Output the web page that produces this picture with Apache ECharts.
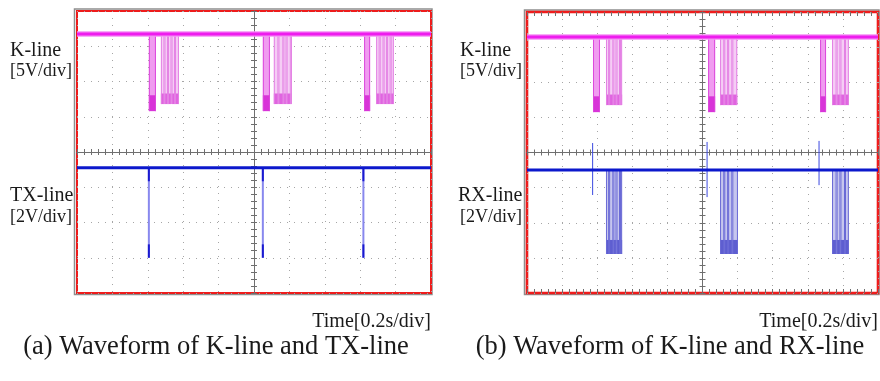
<!DOCTYPE html>
<html>
<head>
<meta charset="utf-8">
<script src="https://cdn.jsdelivr.net/npm/echarts@6/dist/echarts.min.js"></script>
<style>
  html, body { margin: 0; padding: 0; background: #fff; }
  #chart { width: 880px; height: 381px; }
</style>
</head>
<body>
<div id="chart"></div>
<script>
// 时间、电压都以“格”(div) 为单位，屏幕中心为 0
// (a) K-line 与 TX-line
const kHighA = 3.35, kLowA = 1.36, kLeadLowA = 1.16;
const kLeadA = [[-2.97, -2.77], [0.25, 0.45], [3.11, 3.28]];
const kEdgesA = [
  [-2.63, -2.53, -2.43, -2.33, -2.23, -2.12],
  [0.56, 0.69, 0.83, 0.92, 1.04, 1.07],
  [3.45, 3.55, 3.66, 3.76, 3.86, 3.95]
];
const txHigh = -0.45, txLow = -3.0;
const txSpikes = [-2.97, 0.25, 3.09];

// (b) K-line 与 RX-line
const kHighB = 3.29, kLowB = 1.35, kLeadLowB = 1.15;
const kLeadB = [[-3.12, -2.92], [0.16, 0.36], [3.35, 3.52]];
const kEdgesB = [
  [-2.75, -2.66, -2.54, -2.45, -2.35, -2.29],
  [0.50, 0.62, 0.73, 0.85, 0.99],
  [3.69, 3.82, 3.93, 4.06, 4.17]
];
const rxHigh = -0.5, rxLow = -2.89;
const rxGlitches = [[-3.13, 0.27, -1.21], [0.13, 0.30, -1.27], [3.32, 0.33, -0.93]];
const rxEdges = [
  [-2.75, -2.66, -2.54, -2.45, -2.35, -2.29],
  [0.50, 0.62, 0.73, 0.85, 1.01],
  [3.69, 3.82, 3.93, 4.06, 4.17]
];

const panels = [
  { left: 77, top: 11, width: 354, height: 282, border: 2 },
  { left: 527, top: 12, width: 351, height: 281, border: 2.6 }
];

const AXIS_GRAY = '#6f6f6f';
const serif = '"Liberation Serif", "DejaVu Serif", serif';

function centerXAxis(gi, yIdx, inside, split) {
  return {
    type: 'value', gridIndex: gi, min: -5, max: 5, interval: 1, position: 'bottom',
    axisLine: { show: true, onZero: true, onZeroAxisIndex: yIdx, lineStyle: { color: AXIS_GRAY, width: 1 } },
    axisTick: { show: true, inside: inside, length: 3, lineStyle: { color: AXIS_GRAY } },
    minorTick: { show: true, splitNumber: 5, length: 3, lineStyle: { color: AXIS_GRAY } },
    axisLabel: { show: false },
    splitLine: { show: split, lineStyle: { color: '#a6a6a6', type: [1, 6], width: 1 } }
  };
}
function centerYAxis(gi, xIdx, inside, split) {
  return {
    type: 'value', gridIndex: gi, min: -4, max: 4, interval: 1, position: 'left',
    axisLine: { show: true, onZero: true, onZeroAxisIndex: xIdx, lineStyle: { color: AXIS_GRAY, width: 1 } },
    axisTick: { show: true, inside: inside, length: 3, lineStyle: { color: AXIS_GRAY } },
    minorTick: { show: true, splitNumber: 5, length: 3, lineStyle: { color: AXIS_GRAY } },
    axisLabel: { show: false },
    splitLine: { show: split, lineStyle: { color: '#a6a6a6', type: [1, 6], width: 1 } }
  };
}
function edgeXAxis(gi, pos) {
  return {
    type: 'value', gridIndex: gi, min: -5, max: 5, interval: 1, position: pos,
    axisLine: { show: false, onZero: false },
    axisTick: { show: true, inside: true, length: 4, lineStyle: { color: AXIS_GRAY } },
    minorTick: { show: true, splitNumber: 5, length: 4, lineStyle: { color: AXIS_GRAY } },
    axisLabel: { show: false },
    splitLine: { show: false }
  };
}

// 基线
function baseline(name, xi, yi, level, color, width) {
  return {
    name: name, type: 'line', xAxisIndex: xi, yAxisIndex: yi, silent: true,
    symbol: 'none', z: 5,
    lineStyle: { color: color, width: width },
    data: [[-5, level], [5, level]]
  };
}

// 脉冲块：value = [t0, t1, high, low, band]
function burst(name, xi, yi, items, c) {
  return {
    name: name, type: 'custom', xAxisIndex: xi, yAxisIndex: yi, silent: true, z: 3,
    renderItem: function (params, api) {
      const a = api.coord([api.value(0), api.value(2)]);
      const b = api.coord([api.value(1), api.value(3)]);
      const m = api.coord([api.value(1), api.value(3) + api.value(4)]);
      const w = Math.max(b[0] - a[0], 1);
      return {
        type: 'group',
        children: [
          { type: 'rect', shape: { x: a[0], y: a[1], width: w, height: b[1] - a[1] }, style: { fill: c.fill } },
          { type: 'rect', shape: { x: a[0], y: m[1], width: w, height: b[1] - m[1] }, style: { fill: c.band } },
          { type: 'line', shape: { x1: a[0] + 0.5, y1: a[1], x2: a[0] + 0.5, y2: b[1] }, style: { stroke: c.edge, lineWidth: 1 } },
          { type: 'line', shape: { x1: a[0] + w - 0.5, y1: a[1], x2: a[0] + w - 0.5, y2: b[1] }, style: { stroke: c.edge, lineWidth: 1 } }
        ]
      };
    },
    data: items
  };
}

function clusterItems(edges, high, low, band) {
  const out = [];
  edges.forEach(function (e) {
    for (let i = 0; i < e.length - 1; i++) out.push([e[i], e[i + 1], high, low, band]);
  });
  return out;
}

// 窄尖脉冲：value = [t, top, bottom]
function spikes(name, xi, yi, items, mid, dark, width, cap) {
  return {
    name: name, type: 'custom', xAxisIndex: xi, yAxisIndex: yi, silent: true, z: 4,
    renderItem: function (params, api) {
      const a = api.coord([api.value(0), api.value(1)]);
      const b = api.coord([api.value(0), api.value(2)]);
      const children = [
        { type: 'line', shape: { x1: a[0], y1: a[1], x2: b[0], y2: b[1] }, style: { stroke: mid, lineWidth: width } }
      ];
      if (cap) {
        const c1 = api.coord([api.value(0), api.value(1) - cap]);
        const c2 = api.coord([api.value(0), api.value(2) + cap]);
        children.push({ type: 'line', shape: { x1: a[0], y1: a[1], x2: c1[0], y2: c1[1] }, style: { stroke: dark, lineWidth: width } });
        children.push({ type: 'line', shape: { x1: c2[0], y1: c2[1], x2: b[0], y2: b[1] }, style: { stroke: dark, lineWidth: width } });
      }
      return { type: 'group', children: children };
    },
    data: items
  };
}

const pink = { fill: '#f09cf0', band: '#d834d8', edge: '#dc48dc' };
const pinkLight = { fill: '#f5cdf5', band: '#e064e0', edge: '#e482e4' };
const blueLight = { fill: '#c6c6ee', band: '#5e5ed0', edge: '#6a6ad6' };

function label(x, y, text, size, align) {
  return {
    type: 'text', x: x, y: y, silent: true,
    style: { text: text, font: size + 'px ' + serif, fill: '#1a1a1a', align: align || 'left', verticalAlign: 'middle' }
  };
}

const option = {
  animation: false,
  backgroundColor: '#fff',
  grid: panels.map(function (p) {
    return {
      left: p.left, top: p.top, width: p.width, height: p.height,
      show: true, backgroundColor: '#fff', borderColor: '#ee1c1c', borderWidth: p.border
    };
  }),
  xAxis: [
    centerXAxis(0, 0, false, true),
    centerXAxis(0, 0, true, false),
    centerXAxis(1, 2, false, true),
    centerXAxis(1, 2, true, false),
    edgeXAxis(1, 'top'),
    edgeXAxis(1, 'bottom')
  ],
  yAxis: [
    centerYAxis(0, 0, false, true),
    centerYAxis(0, 0, true, false),
    centerYAxis(1, 2, false, true),
    centerYAxis(1, 2, true, false)
  ],
  series: [
    // (a)
    burst('K lead a', 0, 0, kLeadA.map(function (p) { return [p[0], p[1], kHighA, kLeadLowA, 0.45]; }), pink),
    burst('K frame a', 0, 0, clusterItems(kEdgesA, kHighA, kLowA, 0.3), pinkLight),
    baseline('K-line a halo', 0, 0, kHighA, '#f590f5', 5.5),
    baseline('K-line a', 0, 0, kHighA, '#ee1cee', 3),
    spikes('TX spikes', 0, 0, txSpikes.map(function (t) { return [t, txHigh, txLow]; }), '#8888ee', '#1a1ad0', 2, 0.38),
    baseline('TX-line', 0, 0, txHigh, '#0c18cc', 3),
    // (b)
    burst('K lead b', 2, 2, kLeadB.map(function (p) { return [p[0], p[1], kHighB, kLeadLowB, 0.45]; }), pink),
    burst('K frame b', 2, 2, clusterItems(kEdgesB, kHighB, kLowB, 0.3), pinkLight),
    baseline('K-line b halo', 2, 2, kHighB, '#f590f5', 5.5),
    baseline('K-line b', 2, 2, kHighB, '#ee1cee', 3),
    burst('RX frame', 2, 2, clusterItems(rxEdges, rxHigh, rxLow, 0.4), blueLight),
    spikes('RX glitch', 2, 2, rxGlitches, '#3b48e0', '#3b48e0', 1, 0),
    baseline('RX-line', 2, 2, rxHigh, '#0c18cc', 3)
  ],
  graphic: panels.map(function (p) {
    return {
      type: 'rect', z: -1, silent: true,
      shape: { x: p.left - 2.5, y: p.top - 2, width: p.width + 3.5, height: p.height + 3.5 },
      style: { fill: 'none', stroke: '#8e8e8e', lineWidth: 1.5 }
    };
  }).concat([
    label(10, 51, 'K-line', 20),
    label(10, 71, '[5V/div]', 18),
    label(10, 196, 'TX-line', 20),
    label(10, 217, '[2V/div]', 18),
    label(460, 51, 'K-line', 20),
    label(460, 71, '[5V/div]', 18),
    label(458, 196, 'RX-line', 20),
    label(460, 217, '[2V/div]', 18),
    label(431, 322, 'Time[0.2s/div]', 20, 'right'),
    label(878, 322, 'Time[0.2s/div]', 20, 'right'),
    label(216, 347, '(a) Waveform of K-line and TX-line', 26.5, 'center'),
    label(670, 347, '(b) Waveform of K-line and RX-line', 26.5, 'center')
  ])
};

const myChart = echarts.init(document.getElementById('chart'));
myChart.setOption(option);
</script>
</body>
</html>
